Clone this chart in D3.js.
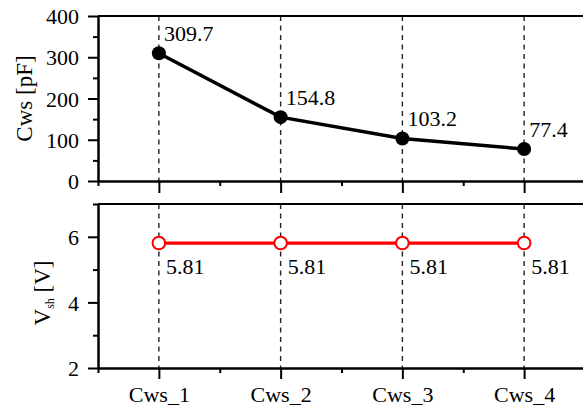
<!DOCTYPE html>
<html>
<head>
<meta charset="utf-8">
<script src="https://cdn.jsdelivr.net/npm/d3@7"></script>
<style>
  html, body { margin: 0; padding: 0; background: #fff; }
  svg { display: block; }
</style>
</head>
<body>
<svg id="chart" width="583" height="415"></svg>
<script>
// Data
const categories = ["Cws_1", "Cws_2", "Cws_3", "Cws_4"];
const cwsValues = [309.7, 154.8, 103.2, 77.4];      // pF
const vshValues = [5.81, 5.81, 5.81, 5.81];         // V
const cwsTicks = [0, 100, 200, 300, 400];
const cwsMinorTicks = [50, 150, 250, 350];
const vshTicks = [2, 4, 6];
const vshMinorTicks = [3, 5, 7];

const SERIF = "'Liberation Serif', 'Times New Roman', Times, serif";
const FS = 22;
const svg = d3.select("#chart");

const left = 98, right = 585;
const x = d3.scaleLinear().domain([0.5, 4.5]).range([left, right]);
const yTop = d3.scaleLinear().domain([0, 400]).range([181, 16]);
const yBot = d3.scaleLinear().domain([2, 7]).range([368, 204]);
const idx = categories.map((d, i) => i + 1);

function serif(sel, size) {
  return sel.style("font-family", SERIF).style("font-size", size + "px").style("fill", "#000");
}

function styleAxis(g) {
  g.attr("font-family", null).attr("font-size", null);
  g.selectAll("path.domain").attr("stroke", "#000").attr("stroke-width", 2);
  g.selectAll(".tick line").attr("stroke", "#000").attr("stroke-width", 2);
  serif(g.selectAll(".tick text"), FS);
}

function panel(y, yTicks, yMinor) {
  const [y0, y1] = y.range();
  // vertical dashed guides at each category
  svg.append("g").selectAll("line").data(idx).join("line")
    .attr("x1", d => x(d)).attr("x2", d => x(d))
    .attr("y1", y1).attr("y2", y0)
    .attr("stroke", "#222").attr("stroke-width", 1.4)
    .attr("stroke-dasharray", "5,4.5");
  // top frame line
  svg.append("line").attr("x1", left).attr("x2", right).attr("y1", y1).attr("y2", y1)
    .attr("stroke", "#000").attr("stroke-width", 2);
  // left axis, minor + major ticks
  const gm = svg.append("g").attr("transform", `translate(${left},0)`)
    .call(d3.axisLeft(y).tickValues(yMinor).tickSize(5).tickSizeOuter(0).tickFormat(""));
  styleAxis(gm);
  const ga = svg.append("g").attr("transform", `translate(${left},0)`)
    .call(d3.axisLeft(y).tickValues(yTicks).tickSize(10).tickSizeOuter(0).tickPadding(9).tickFormat(d3.format("d")));
  styleAxis(ga);
  ga.selectAll(".tick text").attr("dy", "0.35em");
}

panel(yTop, cwsTicks, cwsMinorTicks);
panel(yBot, vshTicks, vshMinorTicks);

// bottom axes of each panel
function bottomAxis(y0, labels, size) {
  const gm = svg.append("g").attr("transform", `translate(0,${y0})`)
    .call(d3.axisBottom(x).tickValues([0.5, 1.5, 2.5, 3.5, 4.5]).tickSize(5).tickSizeOuter(0).tickFormat(""));
  styleAxis(gm);
  const ga = svg.append("g").attr("transform", `translate(0,${y0})`)
    .call(d3.axisBottom(x).tickValues(idx).tickSize(size).tickSizeOuter(0).tickPadding(7)
      .tickFormat(d => labels ? categories[d - 1] : ""));
  styleAxis(ga);
}
bottomAxis(181, false, 12);
bottomAxis(368, true, 11);

// Cws series
const lineTop = d3.line().x((d, i) => x(i + 1)).y(d => yTop(d));
svg.append("path").datum(cwsValues).attr("d", lineTop)
  .attr("fill", "none").attr("stroke", "#000").attr("stroke-width", 3.5);
svg.append("g").selectAll("circle").data(cwsValues).join("circle")
  .attr("cx", (d, i) => x(i + 1)).attr("cy", d => yTop(d)).attr("r", 7).attr("fill", "#000");
serif(svg.append("g").selectAll("text").data(cwsValues).join("text")
  .attr("x", (d, i) => x(i + 1) + 5).attr("y", d => yTop(d) - 12)
  .text(d => d.toFixed(1)), FS);

// Vsh series
const lineBot = d3.line().x((d, i) => x(i + 1)).y(d => yBot(d));
svg.append("path").datum(vshValues).attr("d", lineBot)
  .attr("fill", "none").attr("stroke", "#ff0000").attr("stroke-width", 3.3);
svg.append("g").selectAll("circle").data(vshValues).join("circle")
  .attr("cx", (d, i) => x(i + 1)).attr("cy", d => yBot(d)).attr("r", 6.3)
  .attr("fill", "#fff").attr("stroke", "#ff0000").attr("stroke-width", 2);
serif(svg.append("g").selectAll("text").data(vshValues).join("text")
  .attr("x", (d, i) => x(i + 1) + 7).attr("y", d => yBot(d) + 31)
  .text(d => d.toFixed(2)), FS);

// Axis titles
serif(svg.append("text").attr("transform", "translate(32,98.5) rotate(-90)")
  .attr("text-anchor", "middle").text("Cws [pF]"), 23);
const vt = serif(svg.append("text").attr("transform", "translate(50,293) rotate(-90)")
  .attr("text-anchor", "middle"), 23);
vt.append("tspan").text("V");
vt.append("tspan").style("font-size", "12px").attr("dy", 4).text("sh");
vt.append("tspan").attr("dy", -4).text(" [V]");
</script>
</body>
</html>
